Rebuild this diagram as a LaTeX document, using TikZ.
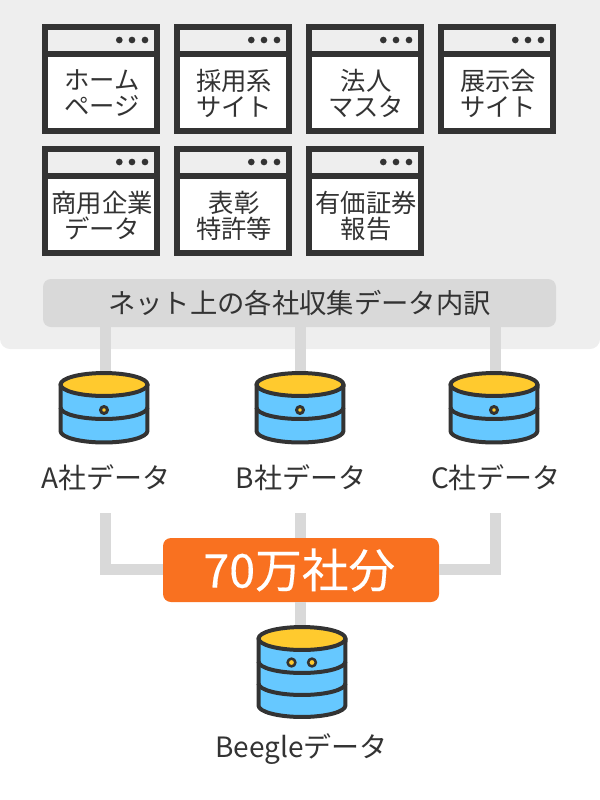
\documentclass[tikz,border=0pt]{standalone}
\usepackage{fontspec}
\setmainfont{Noto Sans CJK JP}
\newfontfamily\heavyfont[FakeBold=0.25]{Noto Sans CJK JP}
\definecolor{panel}{HTML}{EEEEEE}
\definecolor{conn}{HTML}{D9D9D9}
\definecolor{ink}{HTML}{333333}
\definecolor{gold}{HTML}{FFCA2E}
\definecolor{sky}{HTML}{66C8FF}
\definecolor{orange}{HTML}{F97120}
\tikzset{
  linkline/.style={draw=conn,line width=8.25pt},
  dbline/.style={draw=ink,line width=3pt,line join=round},
  wintext/.style={align=center,text=ink,font=\fontsize{19}{19.5}\selectfont,inner sep=0pt},
  dblabel/.style={text=ink,font=\fontsize{21}{24}\selectfont,inner sep=0pt},
  dbbox/.style={minimum width=69pt,minimum height=54pt,inner sep=0pt},
}
% name, left x, top y, text
\newcommand{\winbox}[4]{%
  \fill[ink] (#2,#3) rectangle ++(118,110);
  \fill[panel] (#2+6,#3+6) rectangle ++(106,21);
  \fill[white] (#2+6,#3+33) rectangle ++(106,71);
  \foreach \dx in {77.3,90,103}{\fill[ink] (#2+\dx,#3+16) circle[radius=2.5pt];}
  \node[wintext] (#1) at (#2+60,#3+69.5) {#4};
}
% name, centre x, top-ellipse y, bottom offset
\newcommand{\dbicon}[4]{%
  \node[dbbox] (#1) at (#2,#3+22) {};
  \filldraw[dbline,fill=sky] (#2-43.5,#3) -- (#2-43.5,#3+#4) arc[start angle=180,end angle=360,x radius=32.6pt,y radius=8.6pt] -- (#2+43.5,#3) -- cycle;
  \filldraw[dbline,fill=gold] (#2,#3) ellipse[x radius=32.6pt,y radius=8.6pt];
}
\newcommand{\dbband}[2]{\draw[dbline] (#1-43.5,#2) arc[start angle=180,end angle=360,x radius=32.6pt,y radius=8.6pt];}
\begin{document}
\begin{tikzpicture}[x=0.75pt,y=-0.75pt]
\useasboundingbox (0,0) rectangle (600,800);
\fill[panel,rounded corners=7.5pt] (0,-20) rectangle (600,349);
\node[fill=conn,rounded corners=6pt,minimum width=384.75pt,minimum height=36pt,inner sep=0pt,text=ink,font=\fontsize{20.5}{24}\selectfont] (bar) at (299.5,303) {ネット上の各社収集データ内訳};
\winbox{w1}{42}{24}{ホーム\\ページ}
\winbox{w2}{174}{24}{採用系\\サイト}
\winbox{w3}{306}{24}{法人\\マスタ}
\winbox{w4}{438}{24}{展示会\\サイト}
\winbox{w5}{42}{146}{商用企業\\データ}
\winbox{w6}{174}{146}{表彰\\特許等}
\winbox{w7}{306}{146}{有価証券\\報告}
\coordinate (topA) at (105.5,375);
\coordinate (topB) at (300.5,375);
\coordinate (topC) at (495.5,375);
\coordinate (freeA) at (105.5,513);
\coordinate (freeB) at (300.5,513);
\coordinate (freeC) at (495.5,513);
\coordinate (cornerA) at (105.5,569.5);
\coordinate (cornerC) at (495.5,569.5);
\coordinate (topD) at (300.5,630);
\node[fill=orange,rounded corners=6pt,minimum width=207pt,minimum height=48pt,inner sep=0pt,text=white,font=\heavyfont\fontsize{35}{38}\selectfont] (total) at (301,570) {\hspace*{-2.6pt}70万社分};
\draw[linkline] (topA |- bar.south) -- (topA);
\draw[linkline] (topB |- bar.south) -- (topB);
\draw[linkline] (topC |- bar.south) -- (topC);
\draw[linkline] (freeA) -- (cornerA) -- (cornerA -| total.west);
\draw[linkline] (freeB) -- (freeB |- total.north);
\draw[linkline] (freeC) -- (cornerC) -- (cornerC -| total.east);
\draw[linkline] (topD |- total.south) -- (topD);
\foreach \cx/\nm in {104/dbA,300/dbB,494/dbC}{
  \dbicon{\nm}{\cx}{384.5}{46.5}
  \dbband{\cx}{407.5}
  \filldraw[dbline,fill=gold,line width=2.25pt] (\cx,410) circle[radius=2.6pt];
}
\dbicon{dbD}{302}{638.5}{67}
\dbband{302}{661.5}
\dbband{302}{683.5}
\filldraw[dbline,fill=gold,line width=1.9pt] (291.5,662.5) circle[radius=2.9pt];
\filldraw[dbline,fill=gold,line width=1.9pt] (312,662.5) circle[radius=2.9pt];
\node[dblabel] (lblA) at (106,478) {A社データ};
\node[dblabel] (lblB) at (301,478) {B社データ};
\node[dblabel] (lblC) at (496,478) {C社データ};
\node[dblabel] (lblD) at (301.5,749) {Beegleデータ};
\end{tikzpicture}
\end{document}
